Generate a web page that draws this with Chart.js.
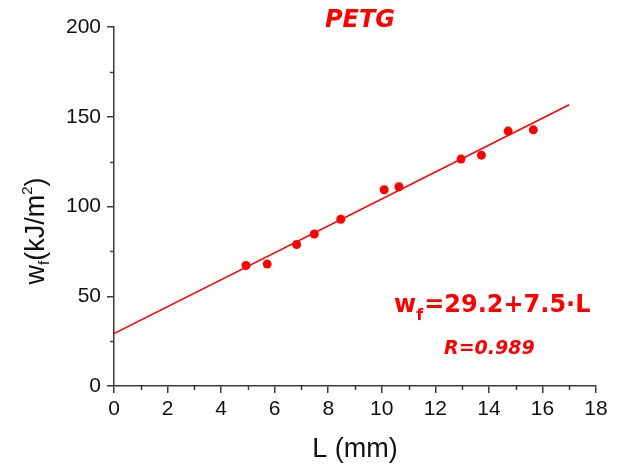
<!DOCTYPE html>
<html>
<head>
<meta charset="utf-8">
<script src="https://cdn.jsdelivr.net/npm/chart.js@4.4.1/dist/chart.umd.min.js"></script>
<style>
  html, body { margin: 0; padding: 0; background: #ffffff; }
  #wrap { width: 622px; height: 464px; }
</style>
</head>
<body>
<div id="wrap"><canvas id="c" width="622" height="464"></canvas></div>
<script>
// ---- data ----
const lengths  = [4.93, 5.72, 6.82, 7.48, 8.47, 10.09, 10.64, 12.96, 13.72, 14.72, 15.66];   // L (mm)
const energies = [67.1, 67.9, 78.8, 84.7, 92.9, 109.3, 111.0, 126.4, 128.6, 142.0, 142.7];   // w_f (kJ/m^2)
const fitX = [0, 17];
const fitY = [29.2, 156.7];
const xTicks = [0, 2, 4, 6, 8, 10, 12, 14, 16, 18];
const yTicks = [0, 50, 100, 150, 200];
const xMinorTicks = [1, 3, 5, 7, 9, 11, 13, 15, 17];
const yMinorTicks = [25, 75, 125, 175];
const titleText = 'PETG';
const eqMain = '=29.2+7.5·L';
const rText = 'R=0.989';

const RED = '#ff0000';
const AXIS = '#3a3a3a';

const points = lengths.map((x, i) => ({ x: x, y: energies[i] }));
const fitLine = fitX.map((x, i) => ({ x: x, y: fitY[i] }));

const decor = {
  id: 'decor',
  afterDraw(chart) {
    const ctx = chart.ctx;
    const xs = chart.scales.x, ys = chart.scales.y;
    const area = chart.chartArea;
    ctx.save();
    // minor ticks
    ctx.strokeStyle = AXIS;
    ctx.lineWidth = 1.5;
    ctx.beginPath();
    xMinorTicks.forEach(v => {
      const px = Math.round(xs.getPixelForValue(v)) + 0.5;
      ctx.moveTo(px, area.bottom);
      ctx.lineTo(px, area.bottom + 4);
    });
    yMinorTicks.forEach(v => {
      const py = Math.round(ys.getPixelForValue(v)) + 0.5;
      ctx.moveTo(area.left, py);
      ctx.lineTo(area.left - 4, py);
    });
    ctx.stroke();

    // chart title
    ctx.fillStyle = RED;
    ctx.textBaseline = 'alphabetic';
    ctx.textAlign = 'center';
    ctx.font = 'italic bold 24px "DejaVu Sans"';
    ctx.fillText(titleText, 360, 26.5);

    // equation
    ctx.textAlign = 'left';
    let x0 = 394;
    ctx.font = 'bold 24px "DejaVu Sans"';
    ctx.fillText('w', x0, 312);
    x0 += ctx.measureText('w').width;
    ctx.font = 'bold 16px "DejaVu Sans"';
    ctx.fillText('f', x0, 320);
    x0 += ctx.measureText('f').width + 1;
    ctx.font = 'bold 24px "DejaVu Sans"';
    ctx.fillText(eqMain, x0, 312);

    ctx.font = 'italic bold 19px "DejaVu Sans"';
    ctx.fillText(rText, 444, 354);

    // axis titles
    ctx.fillStyle = '#111111';
    ctx.font = '27px "Liberation Sans"';
    ctx.textAlign = 'center';
    ctx.fillText('L (mm)', 355, 457);

    // y title (rotated) w_f(kJ/m^2)
    ctx.save();
    ctx.translate(44, 231);
    ctx.rotate(-Math.PI / 2);
    ctx.textAlign = 'left';
    const big = '27px "Liberation Sans"', small = '15px "Liberation Sans"';
    ctx.font = big; const wW = ctx.measureText('w').width;
    ctx.font = small; const fW = ctx.measureText('f').width;
    ctx.font = big; const midW = ctx.measureText('(kJ/m').width;
    ctx.font = small; const twoW = ctx.measureText('2').width;
    ctx.font = big; const closeW = ctx.measureText(')').width;
    const total = wW + fW + midW + twoW + closeW;
    let cx = -total / 2;
    ctx.font = big; ctx.fillText('w', cx, 0); cx += wW;
    ctx.font = small; ctx.fillText('f', cx, 5); cx += fW;
    ctx.font = big; ctx.fillText('(kJ/m', cx, 0); cx += midW;
    ctx.font = small; ctx.fillText('2', cx, -12); cx += twoW;
    ctx.font = big; ctx.fillText(')', cx, 0);
    ctx.restore();

    ctx.restore();
  }
};

new Chart(document.getElementById('c'), {
  type: 'scatter',
  data: {
    datasets: [
      {
        type: 'line',
        data: fitLine,
        borderColor: RED,
        borderWidth: 1.5,
        pointRadius: 0,
        fill: false,
        order: 2
      },
      {
        type: 'scatter',
        data: points,
        backgroundColor: RED,
        borderColor: RED,
        pointRadius: 4.5,
        borderWidth: 0,
        order: 1
      }
    ]
  },
  options: {
    responsive: false,
    devicePixelRatio: 1,
    animation: false,
    layout: { padding: { left: 0, right: 26, top: 27, bottom: 0 } },
    plugins: { legend: { display: false }, tooltip: { enabled: false }, title: { display: false } },
    scales: {
      x: {
        type: 'linear',
        min: 0, max: 18,
        afterFit(scale) { scale.height = 78; },
        afterBuildTicks(scale) { scale.ticks = xTicks.map(v => ({ value: v })); },
        ticks: {
          font: { family: 'Liberation Sans', size: 21 },
          color: '#111111',
          padding: 4,
          maxRotation: 0,
          autoSkip: false
        },
        grid: { display: true, drawOnChartArea: false, drawTicks: true, tickLength: 7, color: AXIS, lineWidth: 1.5 },
        border: { display: true, color: AXIS, width: 1.5 }
      },
      y: {
        type: 'linear',
        min: 0, max: 200,
        afterFit(scale) { scale.width = 114; },
        afterBuildTicks(scale) { scale.ticks = yTicks.map(v => ({ value: v })); },
        ticks: {
          font: { family: 'Liberation Sans', size: 21 },
          color: '#111111',
          padding: 6,
          autoSkip: false
        },
        grid: { display: true, drawOnChartArea: false, drawTicks: true, tickLength: 7, color: AXIS, lineWidth: 1.5 },
        border: { display: true, color: AXIS, width: 1.5 }
      }
    }
  },
  plugins: [decor]
});
</script>
</body>
</html>
